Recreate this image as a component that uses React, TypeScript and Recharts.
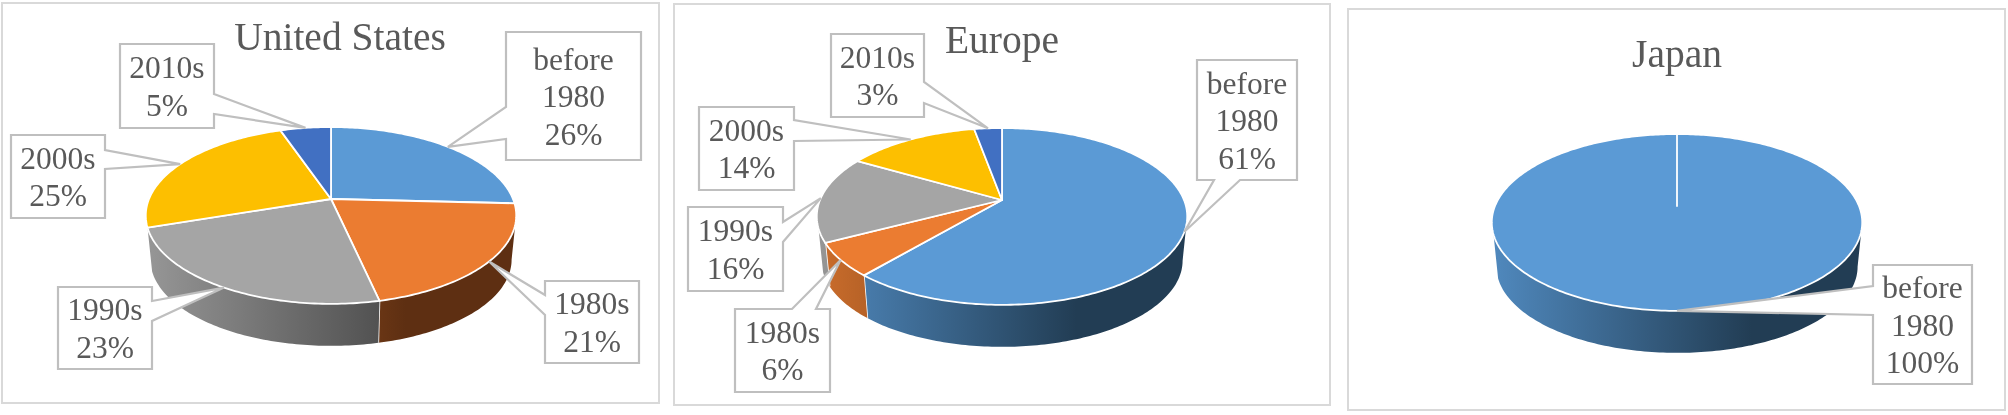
import React from "react";
import { PieChart, Pie } from "recharts";

const W = 2008;
const H = 415;

// ---- data (label percentages are these values rounded) ----
const categories = ["before 1980", "1980s", "1990s", "2000s", "2010s"];
const usValues = [25.8, 20.7, 23.4, 24.8, 5.3];
const europeValues = [61.3, 6.1, 15.9, 13.8, 2.9];
const japanCategories = ["before 1980"];
const japanValues = [100];

// ---- style ----
const topColors = ["#5B9AD5", "#EB7C31", "#A5A5A5", "#FDBF00", "#4170C2"];
const wallLight = ["#5089BE", "#CC6E2C", "#979797", "#D9A300", "#3A62A8"];
const wallDark = ["#223D54", "#5E2F12", "#4A4A4A", "#7F6000", "#203864"];
const TEXT = "#595959";
const LINE = "#BFBFBF";
const FONT = "'Liberation Serif', 'Times New Roman', serif";

// ---- projection of the flat pie on screen (a tilted disc seen in perspective) ----
const RADIUS = 182;
const TILT = 0.469;
const PERSP = 0.186;
const DEPTH = 44.6;
const BOTTOM_SCALE = 0.975;
const RAD = Math.PI / 180;
const FRONT_A = -Math.asin(PERSP) / RAD;
const FRONT_B = -161.6;

function project(cx: number, cy: number, R: number, deg: number) {
  const c = Math.cos(deg * RAD);
  const s = Math.sin(deg * RAD);
  const d = 1 + PERSP * s;
  return { dx: (R * c) / d, dy: (-R * TILT * s) / d, x: cx + (R * c) / d, y: cy - (R * TILT * s) / d };
}
function arcPoints(cx: number, cy: number, R: number, from: number, to: number) {
  const n = Math.max(2, Math.ceil(Math.abs(to - from)));
  const pts: { dx: number; dy: number; x: number; y: number }[] = [];
  for (let i = 0; i <= n; i++) pts.push(project(cx, cy, R, from + ((to - from) * i) / n));
  return pts;
}

function TopShape(p: any) {
  const pts = arcPoints(p.cx, p.cy, p.outerRadius, p.startAngle, p.endAngle);
  const d = `M${p.cx},${p.cy} ` + pts.map((q) => `L${q.x.toFixed(2)},${q.y.toFixed(2)}`).join(" ") + " Z";
  return <path d={d} fill={p.fill} stroke="#FFFFFF" strokeWidth={1.8} strokeLinejoin="round" />;
}

const bottomOf = (cy: number, q: { dx: number; dy: number }, cx: number) => ({
  x: cx + q.dx * BOTTOM_SCALE,
  y: cy + DEPTH + q.dy * BOTTOM_SCALE,
});

function makeWall(id: string) {
  return function WallShape(p: any) {
    const from = Math.min(p.startAngle, FRONT_A);
    const to = Math.max(p.endAngle, FRONT_B);
    if (from <= to) return <g />;
    const top = arcPoints(p.cx, p.cy, p.outerRadius, from, to);
    const bot = top.map((q) => bottomOf(p.cy, q, p.cx)).reverse();
    const d =
      "M" + top.map((q) => `${q.x.toFixed(2)},${q.y.toFixed(2)}`).join(" L") +
      " L" + bot.map((q) => `${q.x.toFixed(2)},${q.y.toFixed(2)}`).join(" L") + " Z";
    const edges: React.ReactNode[] = [];
    const edge = (q: any, k: string) => {
      const b = bottomOf(p.cy, q, p.cx);
      edges.push(<line key={k} x1={q.x} y1={q.y} x2={b.x} y2={b.y} stroke="#FFFFFF" strokeWidth={1.6} />);
    };
    if (p.endAngle > FRONT_B) edge(top[top.length - 1], "e");
    return (
      <g>
        <path d={d} fill={`url(#${id}-${p.payload?.colorIndex ?? 0})`} stroke="none" />
        {edges}
      </g>
    );
  };
}

type Box = { x: number; y: number; w: number; h: number; side: "l" | "r" | "t" | "b"; a: number; b: number };

function makeCallout(boxes: Box[]) {
  return function Callout(p: any) {
    const box = boxes[p.index];
    if (!box) return null;
    const tip = project(p.cx, p.cy, p.outerRadius, p.midAngle);
    const { x, y, w, h, side, a, b } = box;
    const r = x + w;
    const bt = y + h;
    const t = `${tip.x.toFixed(1)},${tip.y.toFixed(1)}`;
    let d = `M${x},${y} `;
    if (side === "t") d += `L${a},${y} L${t} L${b},${y} `;
    d += `L${r},${y} `;
    if (side === "r") d += `L${r},${a} L${t} L${r},${b} `;
    d += `L${r},${bt} `;
    if (side === "b") d += `L${b},${bt} L${t} L${a},${bt} `;
    d += `L${x},${bt} `;
    if (side === "l") d += `L${x},${b} L${t} L${x},${a} `;
    d += "Z";
    const lines = [...String(p.name).split(" "), `${Math.round(p.value)}%`];
    const mid = y + h / 2;
    return (
      <g>
        <path d={d} fill="#FFFFFF" stroke={LINE} strokeWidth={2.2} strokeLinejoin="miter" />
        {lines.map((s, i) => (
          <text
            key={i}
            x={x + w / 2}
            y={mid + (i - (lines.length - 1) / 2) * 37.5 + 11}
            textAnchor="middle"
            fontFamily={FONT}
            fontSize={31.5}
            fill={TEXT}
          >
            {s}
          </text>
        ))}
      </g>
    );
  };
}

// ---- layout of the panels and of the call-out boxes ----
const usBoxes: Box[] = [
  { x: 506, y: 32, w: 135, h: 128, side: "l", a: 107, b: 139 },
  { x: 545, y: 281, w: 94, h: 82, side: "l", a: 295, b: 315 },
  { x: 58, y: 287, w: 94, h: 82, side: "r", a: 301, b: 321 },
  { x: 11, y: 135, w: 94, h: 83, side: "r", a: 150, b: 169 },
  { x: 120, y: 44, w: 94, h: 84, side: "r", a: 94, b: 114 },
];
const europeBoxes: Box[] = [
  { x: 1197, y: 60, w: 100, h: 120, side: "b", a: 1214, b: 1240 },
  { x: 735, y: 309, w: 95, h: 83, side: "t", a: 792, b: 816 },
  { x: 688, y: 207, w: 95, h: 84, side: "r", a: 222, b: 242 },
  { x: 699, y: 107, w: 95, h: 83, side: "r", a: 120, b: 141 },
  { x: 831, y: 34, w: 93, h: 83, side: "r", a: 82, b: 103 },
];
const japanBoxes: Box[] = [{ x: 1873, y: 265, w: 99, h: 119, side: "l", a: 286, b: 315 }];

const panels = [
  { id: "us", title: "United States", names: categories, values: usValues, boxes: usBoxes,
    left: 1, top: 2, right: 660, bottom: 404, cx: 331, cy: 199, titleX: 340, titleY: 50 },
  { id: "eu", title: "Europe", names: categories, values: europeValues, boxes: europeBoxes,
    left: 673, top: 3, right: 1331, bottom: 406, cx: 1002, cy: 200, titleX: 1002, titleY: 53 },
  { id: "jp", title: "Japan", names: japanCategories, values: japanValues, boxes: japanBoxes,
    left: 1347, top: 8, right: 2006, bottom: 411, cx: 1677, cy: 206, titleX: 1677, titleY: 67 },
];

function Panel({ panel }: { panel: (typeof panels)[number] }) {
  const rows = panel.names.map((name, i) => ({ name, value: panel.values[i], fill: topColors[i], colorIndex: i }));
  const wall = makeWall(panel.id);
  const callout = makeCallout(panel.boxes);
  const halfWidth = 186;
  const margin = { top: 0, right: 0, bottom: 0, left: 0 };
  return (
    <PieChart width={W} height={H} margin={margin} style={{ position: "absolute", left: 0, top: 0 }}>
      <defs>
        {topColors.map((_, i) => (
          <linearGradient
            key={i}
            id={`${panel.id}-${i}`}
            gradientUnits="userSpaceOnUse"
            x1={panel.cx - halfWidth}
            x2={panel.cx + halfWidth}
            y1={0}
            y2={0}
          >
            <stop offset="0" stopColor={wallLight[i]} />
            <stop offset="0.7" stopColor={wallDark[i]} />
            <stop offset="1" stopColor={wallDark[i]} />
          </linearGradient>
        ))}
      </defs>
      <text x={panel.titleX} y={panel.titleY} textAnchor="middle" fontFamily={FONT} fontSize={39.5} fill={TEXT}>
        {panel.title}
      </text>
      <Pie
        data={rows}
        dataKey="value"
        nameKey="name"
        cx={panel.cx}
        cy={panel.cy}
        outerRadius={RADIUS}
        startAngle={90}
        endAngle={-270}
        paddingAngle={0}
        isAnimationActive={false}
        shape={wall as any}
        inactiveShape={wall as any}
        label={false}
        labelLine={false}
      />
      <Pie
        data={rows}
        dataKey="value"
        nameKey="name"
        cx={panel.cx}
        cy={panel.cy}
        outerRadius={RADIUS}
        startAngle={90}
        endAngle={-270}
        paddingAngle={0}
        isAnimationActive={false}
        shape={TopShape as any}
        inactiveShape={TopShape as any}
        label={callout as any}
        labelLine={false}
      />
    </PieChart>
  );
}

export default function App() {
  return (
    <div
      style={{
        position: "absolute",
        left: 0,
        top: 0,
        width: W,
        height: H,
        background: "#FFFFFF",
        overflow: "hidden",
        filter: "blur(0.45px)",
      }}
    >
      {panels.map((p) => (
        <div
          key={p.id}
          style={{
            position: "absolute",
            left: p.left,
            top: p.top,
            width: p.right - p.left,
            height: p.bottom - p.top,
            border: "2px solid #D9D9D9",
            boxSizing: "border-box",
          }}
        />
      ))}
      {panels.map((p) => (
        <Panel key={p.id} panel={p} />
      ))}
    </div>
  );
}
